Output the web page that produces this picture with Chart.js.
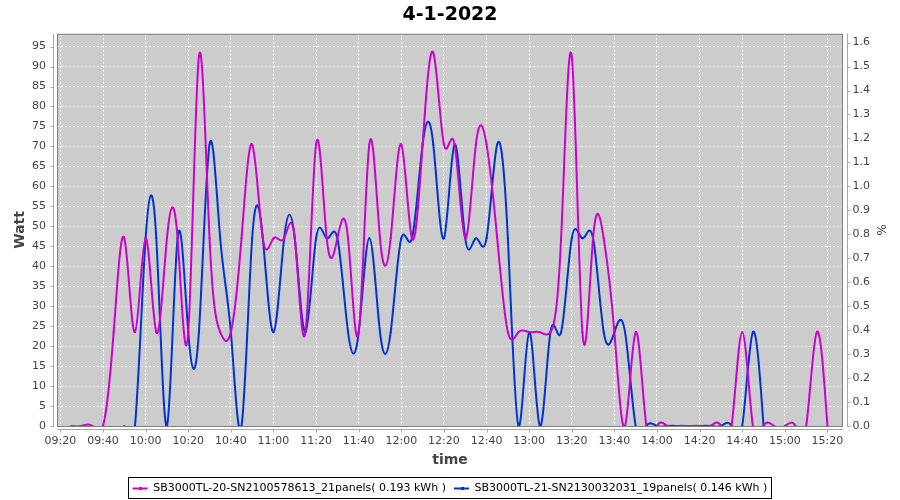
<!DOCTYPE html>
<html>
<head>
<meta charset="utf-8">
<title>4-1-2022</title>
<script src="https://cdn.jsdelivr.net/npm/chart.js@4.4.1/dist/chart.umd.min.js"></script>
<style>
  html, body { margin: 0; padding: 0; background: #fff; }
  canvas { display: block; }
</style>
</head>
<body>
<canvas id="myChart" width="900" height="500"></canvas>
<script>
const inv20Times = [
  "09:25", "09:30", "09:35", "09:40", "09:45", "09:50", "09:55",
  "10:00", "10:05", "10:10", "10:15", "10:20", "10:25", "10:30", "10:35", "10:40", "10:45", "10:50", "10:55",
  "11:00", "11:05", "11:10", "11:15", "11:20", "11:25", "11:30", "11:35", "11:40", "11:45", "11:50", "11:55",
  "12:00", "12:05", "12:10", "12:15", "12:20", "12:25", "12:30", "12:35", "12:40", "12:45", "12:50", "12:55",
  "13:00", "13:05", "13:10", "13:15", "13:20", "13:25", "13:30", "13:35", "13:40", "13:45", "13:50", "13:55",
  "14:00", "14:05", "14:10", "14:15", "14:20", "14:25", "14:30", "14:35", "14:40", "14:45", "14:50", "14:55",
  "15:00", "15:05", "15:10", "15:15", "15:20",
];
const inv20Watt = [
  0, 0, 0, 0, 23.5, 47, 23.5,
  47, 23.5, 47, 47, 23.5, 92.5, 47, 23.5, 23.5, 47, 70.5, 47,
  47, 47, 47, 23.5, 70.5, 47, 47, 47, 23.5, 70.5, 47, 47,
  70.5, 47, 70.5, 93.5, 70.5, 70.5, 47, 70.5, 70.5, 47, 23.5, 23.5,
  23.5, 23.5, 23.5, 47, 92.5, 23.5, 47, 47, 23.5, 0, 23.5, 0,
  0, 0, 0, 0, 0, 0, 0, 0, 23.5, 0, 0, 0,
  0, 0, 0, 23.5, 0,
];

const inv21Times = [
  "09:50", "09:55",
  "10:00", "10:05", "10:10", "10:15", "10:20", "10:25", "10:30", "10:35", "10:40", "10:45", "10:50", "10:55",
  "11:00", "11:05", "11:10", "11:15", "11:20", "11:25", "11:30", "11:35", "11:40", "11:45", "11:50", "11:55",
  "12:00", "12:05", "12:10", "12:15", "12:20", "12:25", "12:30", "12:35", "12:40", "12:45", "12:50", "12:55",
  "13:00", "13:05", "13:10", "13:15", "13:20", "13:25", "13:30", "13:35", "13:40", "13:45", "13:50", "13:55",
  "14:00", "14:05", "14:10", "14:15", "14:20", "14:25", "14:30", "14:35", "14:40", "14:45", "14:50",
];
const inv21Watt = [
  0, 0,
  47, 47, 0, 47, 23.5, 23.5, 70.5, 47, 23.5, 0, 47, 47,
  23.5, 47, 47, 23.5, 47, 47, 47, 23.5, 23.5, 47, 23.5, 23.5,
  47, 47, 70.5, 70.5, 47, 70.5, 47, 47, 47, 70.5, 47, 0,
  23.5, 0, 23.5, 23.5, 47, 47, 47, 23.5, 23.5, 23.5, 0, 0,
  0, 0, 0, 0, 0, 0, 0, 0, 0, 23.5, 0,
];

const timeTicks = [
  "09:20", "09:40", "10:00", "10:20", "10:40", "11:00", "11:20", "11:40", "12:00", "12:20",
  "12:40", "13:00", "13:20", "13:40", "14:00", "14:20", "14:40", "15:00", "15:20",
];
const wattTicks = [0, 5, 10, 15, 20, 25, 30, 35, 40, 45, 50, 55, 60, 65, 70, 75, 80, 85, 90, 95];
const percentTicks = [0, 0.1, 0.2, 0.3, 0.4, 0.5, 0.6, 0.7, 0.8, 0.9, 1.0, 1.1, 1.2, 1.3, 1.4, 1.5, 1.6];

const MAGENTA = "#cc00cc";
const BLUE = "#0033cc";
const TICK_COLOR = "#444444";

function toMinutes(t) {
  const [h, m] = t.split(":");
  return Number(h) * 60 + Number(m);
}
function pad(n) {
  return String(n).padStart(2, "0");
}
function fmtTime(v) {
  return pad(Math.floor(v / 60)) + ":" + pad(Math.round(v % 60));
}

// JFreeChart's spline renderer draws a natural cubic spline through the points,
// so swap chart.js's bezier control points for natural-spline ones
const naturalSpline = {
  id: "naturalSpline",
  beforeDatasetDraw(chart, args) {
    const meta = args.meta;
    const line = meta.dataset;
    if (!line) return;
    line.updateControlPoints(chart.chartArea, meta.iScale.axis);
    const pts = meta.data;
    const n = pts.length;
    if (n < 3) return;
    const h = [];
    for (let i = 0; i < n - 1; i++) h.push(pts[i + 1].x - pts[i].x);
    const a = [], b = [], c = [], d = [];
    for (let i = 1; i < n - 1; i++) {
      a.push(h[i - 1]);
      b.push(2 * (h[i - 1] + h[i]));
      c.push(h[i]);
      d.push(6 * ((pts[i + 1].y - pts[i].y) / h[i] - (pts[i].y - pts[i - 1].y) / h[i - 1]));
    }
    const m = b.length;
    for (let i = 1; i < m; i++) {
      const w = a[i] / b[i - 1];
      b[i] -= w * c[i - 1];
      d[i] -= w * d[i - 1];
    }
    const M = new Array(n).fill(0);
    M[m] = d[m - 1] / b[m - 1];
    for (let i = m - 2; i >= 0; i--) M[i + 1] = (d[i] - c[i] * M[i + 2]) / b[i];
    for (let i = 0; i < n - 1; i++) {
      const p = pts[i], q = pts[i + 1], hi = h[i];
      const s = (q.y - p.y) / hi;
      const m0 = s - hi * (2 * M[i] + M[i + 1]) / 6;
      const m1 = s + hi * (M[i] + 2 * M[i + 1]) / 6;
      p.cp2x = p.x + hi / 3;
      p.cp2y = p.y + m0 * hi / 3;
      q.cp1x = q.x - hi / 3;
      q.cp1y = q.y - m1 * hi / 3;
    }
    pts[0].cp1x = pts[0].x; pts[0].cp1y = pts[0].y;
    pts[n - 1].cp2x = pts[n - 1].x; pts[n - 1].cp2y = pts[n - 1].y;
    line._path = undefined;
  },
};

const plotFrame = {
  id: "plotFrame",
  beforeDraw(chart) {
    const { ctx, chartArea: a } = chart;
    ctx.save();
    ctx.fillStyle = "#cccccc";
    ctx.fillRect(a.left, a.top, a.right - a.left, a.bottom - a.top);
    ctx.restore();
  },
  afterDatasetsDraw(chart) {
    const { ctx, chartArea: a, scales } = chart;
    ctx.save();
    ctx.lineWidth = 1;
    ctx.strokeStyle = "#808080";
    ctx.strokeRect(a.left + 0.5, a.top + 0.5, a.right - a.left - 1, a.bottom - a.top);

    ctx.strokeStyle = "#a8a8a8";
    ctx.beginPath();
    // left axis
    const lx = a.left - 3.5;
    ctx.moveTo(lx, a.top);
    ctx.lineTo(lx, a.bottom + 1);
    scales.y.ticks.forEach((t) => {
      const y = Math.round(scales.y.getPixelForValue(t.value)) + 0.5;
      ctx.moveTo(lx - 3, y);
      ctx.lineTo(lx, y);
    });
    // right axis
    const rx = a.right + 4.5;
    ctx.moveTo(rx, a.top);
    ctx.lineTo(rx, a.bottom + 1);
    scales.y1.ticks.forEach((t) => {
      const y = Math.round(scales.y1.getPixelForValue(t.value)) + 0.5;
      ctx.moveTo(rx, y);
      ctx.lineTo(rx + 3, y);
    });
    // time axis
    const by = a.bottom + 3.5;
    ctx.moveTo(a.left, by);
    ctx.lineTo(a.right, by);
    scales.x.ticks.forEach((t) => {
      const x = Math.round(scales.x.getPixelForValue(t.value)) + 0.5;
      ctx.moveTo(x, by);
      ctx.lineTo(x, by + 3);
    });
    ctx.stroke();
    ctx.restore();
  },
  afterDraw(chart) {
    const boxes = chart.legend.legendHitBoxes;
    if (!boxes || !boxes.length) return;
    const left = Math.min(...boxes.map((b) => b.left));
    const right = Math.max(...boxes.map((b) => b.left + b.width));
    const top = Math.min(...boxes.map((b) => b.top));
    const bottom = Math.max(...boxes.map((b) => b.top + b.height));
    const ctx = chart.ctx;
    ctx.save();
    ctx.strokeStyle = "#000";
    ctx.lineWidth = 1;
    ctx.strokeRect(Math.round(left) - 4.5, Math.round(top) - 5.5, Math.round(right - left) + 8, Math.round(bottom - top) + 10);
    // small square marker in the middle of each legend line
    chart.legend.legendItems.forEach((item, i) => {
      const b = boxes[i];
      ctx.fillStyle = item.strokeStyle;
      ctx.fillRect(Math.round(b.left + 7.5) - 1, Math.round(b.top + b.height / 2) - 2, 3, 3);
    });
    ctx.restore();
  },
};

Chart.defaults.font.family = "'DejaVu Sans', sans-serif";

const ctx = document.getElementById("myChart");
new Chart(ctx, {
  type: "line",
  data: {
    datasets: [
      {
        label: "SB3000TL-20-SN2100578613_21panels( 0.193 kWh )",
        data: inv20Times.map((t, i) => ({ x: toMinutes(t), y: inv20Watt[i] })),
        borderColor: MAGENTA,
        backgroundColor: MAGENTA,
        borderWidth: 2,
        pointRadius: 1,
        pointBorderWidth: 0,
        tension: 0.4,
        yAxisID: "y",
      },
      {
        label: "SB3000TL-21-SN2130032031_19panels( 0.146 kWh )",
        data: inv21Times.map((t, i) => ({ x: toMinutes(t), y: inv21Watt[i] })),
        borderColor: BLUE,
        backgroundColor: BLUE,
        borderWidth: 2,
        pointRadius: 1,
        pointBorderWidth: 0,
        tension: 0.4,
        yAxisID: "y",
      },
    ],
  },
  options: {
    responsive: false,
    animation: false,
    events: [],
    layout: { padding: { left: 0, right: 0, top: 0, bottom: -4 } },
    plugins: {
      title: {
        display: true,
        text: "4-1-2022",
        color: "#000",
        font: { size: 19, weight: "bold" },
        padding: { top: 4, bottom: 7 },
      },
      legend: {
        position: "bottom",
        labels: {
          color: "#000",
          font: { size: 11 },
          padding: 8,
          usePointStyle: true,
          pointStyle: "line",
          pointStyleWidth: 15,
          generateLabels: (chart) =>
            Chart.defaults.plugins.legend.labels.generateLabels(chart).map((l, i) => ({
              ...l,
              lineWidth: 2,
              strokeStyle: chart.data.datasets[i].borderColor,
              fillStyle: chart.data.datasets[i].borderColor,
            })),
        },
      },
      tooltip: { enabled: false },
    },
    scales: {
      x: {
        type: "linear",
        min: 558.4,
        max: 927.3,
        afterBuildTicks: (s) => {
          s.ticks = timeTicks.map((t) => ({ value: toMinutes(t) }));
        },
        afterFit: (s) => {
          s.height = s.chart.height + 4 - 426 - s.chart.legend.height;
        },
        ticks: {
          callback: (v) => fmtTime(v),
          color: TICK_COLOR,
          font: { size: 11 },
          padding: 9,
          autoSkip: false,
          maxRotation: 0,
          minRotation: 0,
        },
        grid: { color: "#ffffff", drawTicks: false },
        border: { display: false, dash: [2, 2] },
        title: {
          display: true,
          text: "time",
          color: TICK_COLOR,
          font: { size: 14, weight: "bold" },
          padding: { top: 0, bottom: 6.6 },
        },
      },
      y: {
        position: "left",
        min: 0,
        max: 98.2,
        afterBuildTicks: (s) => {
          s.ticks = wattTicks.map((v) => ({ value: v }));
        },
        afterFit: (s) => {
          s.width = 57;
        },
        ticks: { color: TICK_COLOR, font: { size: 11 }, padding: 11 },
        grid: { color: "#ffffff", drawTicks: false },
        border: { display: false, dash: [2, 2] },
        title: {
          display: true,
          text: "Watt",
          color: TICK_COLOR,
          font: { size: 14, weight: "bold" },
          padding: { top: 12, bottom: 0 },
        },
      },
      y1: {
        position: "right",
        min: 0,
        max: 98.2 / 60,
        afterBuildTicks: (s) => {
          s.ticks = percentTicks.map((v) => ({ value: v }));
        },
        afterFit: (s) => {
          s.width = 57;
        },
        ticks: {
          callback: (v) => v.toFixed(1),
          color: TICK_COLOR,
          font: { size: 11 },
          padding: 9.5,
        },
        grid: { drawOnChartArea: false, drawTicks: false },
        border: { display: false },
        title: {
          display: true,
          text: "%",
          color: TICK_COLOR,
          font: { size: 12 },
          padding: { top: 12.8, bottom: 0 },
        },
      },
    },
  },
  plugins: [plotFrame, naturalSpline],
});
</script>
</body>
</html>
